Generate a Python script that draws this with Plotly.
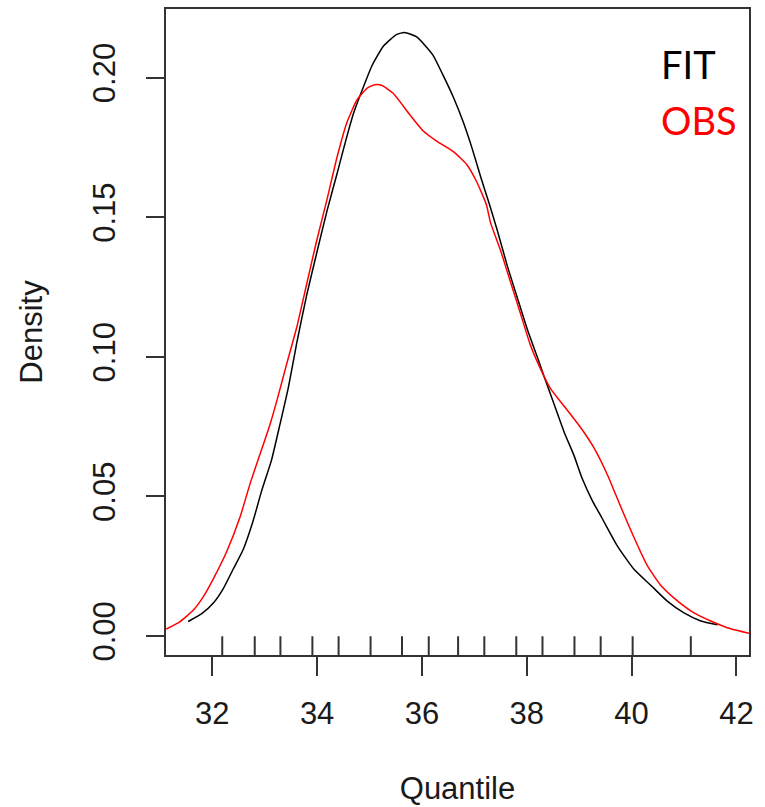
import plotly.graph_objects as go

# FIT density curve (black)
fit_x = [31.54, 31.80, 32.02, 32.21, 32.40, 32.59, 32.78, 32.94, 33.13, 33.29, 33.45, 33.61,
         33.80, 33.99, 34.19, 34.38, 34.54, 34.70, 34.89, 35.04, 35.26, 35.52, 35.67, 35.90,
         36.21, 36.40, 36.60, 36.79, 36.96, 37.12, 37.28, 37.44, 37.63, 37.82, 38.01, 38.20,
         38.33, 38.52, 38.71, 38.90, 39.06, 39.25, 39.44, 39.73, 40.05, 40.37, 40.68, 41.00,
         41.32, 41.64]
fit_y = [0.0052, 0.0080, 0.0118, 0.0170, 0.0240, 0.0310, 0.0413, 0.0519, 0.0630, 0.0757, 0.0889, 0.1048,
         0.1220, 0.1370, 0.1524, 0.1656, 0.1770, 0.1875, 0.1970, 0.2040, 0.2112, 0.2155, 0.2162, 0.2146,
         0.2081, 0.2010, 0.1930, 0.1840, 0.1745, 0.1645, 0.1551, 0.1452, 0.1325, 0.1212, 0.1099, 0.1000,
         0.0930, 0.0831, 0.0732, 0.0647, 0.0563, 0.0485, 0.0421, 0.0322, 0.0238, 0.0181, 0.0125, 0.0083,
         0.0054, 0.0040]

# OBS density curve (red)
obs_x = [31.12, 31.38, 31.64, 31.83, 32.02, 32.27, 32.53, 32.72, 32.91, 33.10, 33.26, 33.42,
         33.61, 33.80, 33.99, 34.19, 34.38, 34.57, 34.76, 34.95, 35.10, 35.23, 35.45, 35.77,
         36.02, 36.28, 36.60, 36.85, 37.04, 37.23, 37.31, 37.50, 37.69, 37.88, 38.07, 38.26,
         38.45, 38.71, 39.03, 39.28, 39.54, 39.79, 40.05, 40.30, 40.56, 40.88, 41.19, 41.51,
         41.89, 42.24]
obs_y = [0.0025, 0.0051, 0.0093, 0.0141, 0.0205, 0.0300, 0.0426, 0.0545, 0.0651, 0.0757, 0.0862, 0.0975,
         0.1105, 0.1260, 0.1415, 0.1565, 0.1715, 0.1840, 0.1920, 0.1962, 0.1975, 0.1973, 0.1944, 0.1867,
         0.1810, 0.1773, 0.1735, 0.1690, 0.1629, 0.1545, 0.1480, 0.1381, 0.1268, 0.1155, 0.1042, 0.0958,
         0.0887, 0.0824, 0.0746, 0.0675, 0.0577, 0.0464, 0.0351, 0.0252, 0.0181, 0.0125, 0.0083, 0.0054,
         0.0026, 0.0010]

# rug marks along the bottom
rug_x = [32.19, 32.81, 33.30, 33.91, 34.41, 35.02, 35.62, 36.13, 36.69, 37.19, 37.80, 38.30,
         38.91, 39.41, 40.02, 41.13]

x_ticks = [32, 34, 36, 38, 40, 42]
y_ticks = [0.00, 0.05, 0.10, 0.15, 0.20]
y_tick_text = ["0.00", "0.05", "0.10", "0.15", "0.20"]

legend_labels = ["FIT", "OBS"]
legend_colors = ["#000000", "#ff0000"]

fig = go.Figure()
fig.add_trace(go.Scatter(x=fit_x, y=fit_y, mode="lines",
                         line=dict(color="#000000", width=1.5, shape="spline", smoothing=0.5),
                         showlegend=False, hoverinfo="skip"))
fig.add_trace(go.Scatter(x=obs_x, y=obs_y, mode="lines",
                         line=dict(color="#ff0000", width=1.5, shape="spline", smoothing=0.5),
                         showlegend=False, hoverinfo="skip"))

for rx in rug_x:
    fig.add_shape(type="line", xref="x", yref="paper", x0=rx, x1=rx, y0=0, y1=0.029,
                  line=dict(color="#333333", width=2))

axis_font = dict(family="Liberation Sans, Arial, sans-serif", size=31, color="#1a1a1a")

fig.update_xaxes(range=[31.117, 42.24], tickvals=x_ticks, ticks="outside", ticklen=19,
                 tickwidth=2, tickcolor="#333333", showline=True, linecolor="#333333",
                 linewidth=2, mirror=True, showgrid=False, zeroline=False,
                 tickfont=axis_font, ticklabelstandoff=11,
                 title=dict(text="Quantile", font=axis_font, standoff=47))
fig.update_yaxes(range=[-0.0068, 0.2246], tickvals=y_ticks, ticktext=y_tick_text,
                 ticks="outside", ticklen=18, tickwidth=2, tickcolor="#333333",
                 showline=True, linecolor="#333333", linewidth=2, mirror=True,
                 showgrid=False, zeroline=False, tickangle=-90, tickfont=axis_font,
                 ticklabelstandoff=19,
                 title=dict(text="Density", font=axis_font, standoff=35))

legend_y = [0.2050, 0.1850]
for lab, col, ly in zip(legend_labels, legend_colors, legend_y):
    fig.add_annotation(x=40.52, y=ly, xref="x", yref="y", text=lab, showarrow=False,
                       xanchor="left", yanchor="middle",
                       font=dict(family="Lato, Open Sans, sans-serif", size=38, color=col))

fig.update_layout(width=765, height=807, margin=dict(l=166, r=16, t=7, b=152),
                  plot_bgcolor="white", paper_bgcolor="white")

fig.write_html("out.html")
